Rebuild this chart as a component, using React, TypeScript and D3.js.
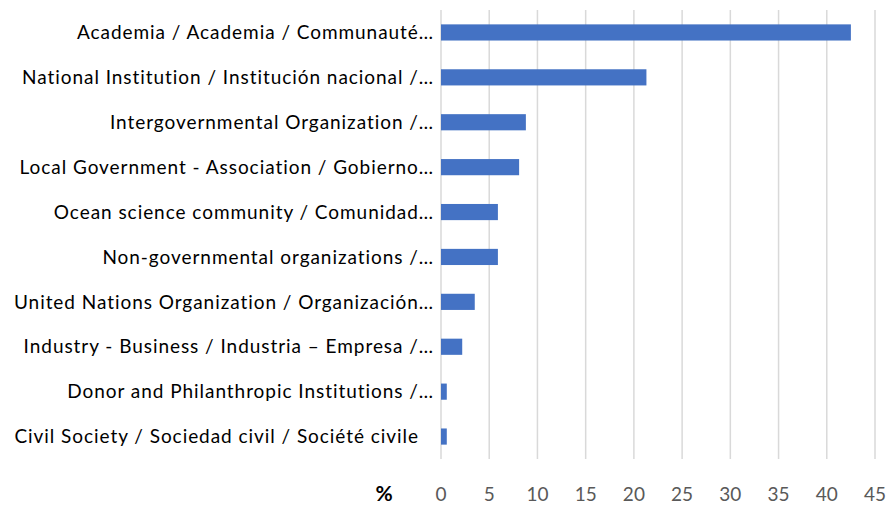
import React, { useEffect, useRef } from 'react';
import * as d3 from 'd3';

const categories = [
  'Academia / Academia / Communauté…',
  'National Institution / Institución nacional /…',
  'Intergovernmental Organization /…',
  'Local Government - Association / Gobierno…',
  'Ocean science community / Comunidad…',
  'Non-governmental organizations /…',
  'United Nations Organization / Organización…',
  'Industry - Business / Industria – Empresa /…',
  'Donor and Philanthropic Institutions /…',
  'Civil Society / Sociedad civil / Société civile',
];
const values = [42.5, 21.3, 8.8, 8.1, 5.9, 5.9, 3.5, 2.2, 0.6, 0.6];
const ticks = [0, 5, 10, 15, 20, 25, 30, 35, 40, 45];

const width = 891;
const height = 506;
const margin = { top: 10, right: 16, bottom: 47, left: 441 };

export default function App() {
  const ref = useRef<SVGSVGElement>(null);

  useEffect(() => {
    const svg = d3.select(ref.current);
    svg.selectAll('*').remove();

    const x = d3.scaleLinear().domain([0, 45]).range([margin.left, width - margin.right]);
    const y = d3
      .scaleBand()
      .domain(categories)
      .range([margin.top, height - margin.bottom])
      .paddingInner(0.64)
      .paddingOuter(0.32);

    // gridlines
    svg
      .append('g')
      .selectAll('line')
      .data(ticks)
      .enter()
      .append('line')
      .attr('x1', d => x(d))
      .attr('x2', d => x(d))
      .attr('y1', margin.top)
      .attr('y2', height - margin.bottom)
      .attr('stroke', '#d9d9d9')
      .attr('stroke-width', 1.5);

    // bars
    svg
      .append('g')
      .selectAll('rect')
      .data(values)
      .enter()
      .append('rect')
      .attr('x', x(0))
      .attr('y', (d, i) => y(categories[i])!)
      .attr('width', d => x(d) - x(0))
      .attr('height', y.bandwidth())
      .attr('fill', '#4472c4');

    // category labels
    svg
      .append('g')
      .selectAll('text')
      .data(categories)
      .enter()
      .append('text')
      .attr('x', (d, i) => (i === categories.length - 1 ? 419 : 434))
      .attr('y', d => y(d)! + y.bandwidth() / 2)
      .attr('dy', '0.35em')
      .attr('text-anchor', 'end')
      .attr('fill', '#000')
      .style('font-family', 'Lato, sans-serif')
      .style('font-size', '19px')
      .style('letter-spacing', '0.95px')
      .text(d => d);

    // tick labels
    svg
      .append('g')
      .selectAll('text')
      .data(ticks)
      .enter()
      .append('text')
      .attr('x', d => x(d))
      .attr('y', 494)
      .attr('dy', '0.35em')
      .attr('text-anchor', 'middle')
      .attr('fill', '#595959')
      .style('font-family', 'Lato, sans-serif')
      .style('font-size', '19px')
      .text(d => d);

    svg
      .append('text')
      .attr('x', 384)
      .attr('y', 494)
      .attr('dy', '0.35em')
      .attr('text-anchor', 'middle')
      .attr('fill', '#000')
      .style('font-family', 'Lato, sans-serif')
      .style('font-size', '21px')
      .style('font-weight', 'bold')
      .text('%');
  }, []);

  return (
    <svg
      ref={ref}
      width={width}
      height={height}
      style={{ position: 'absolute', left: 0, top: 0, background: '#fff' }}
    />
  );
}
